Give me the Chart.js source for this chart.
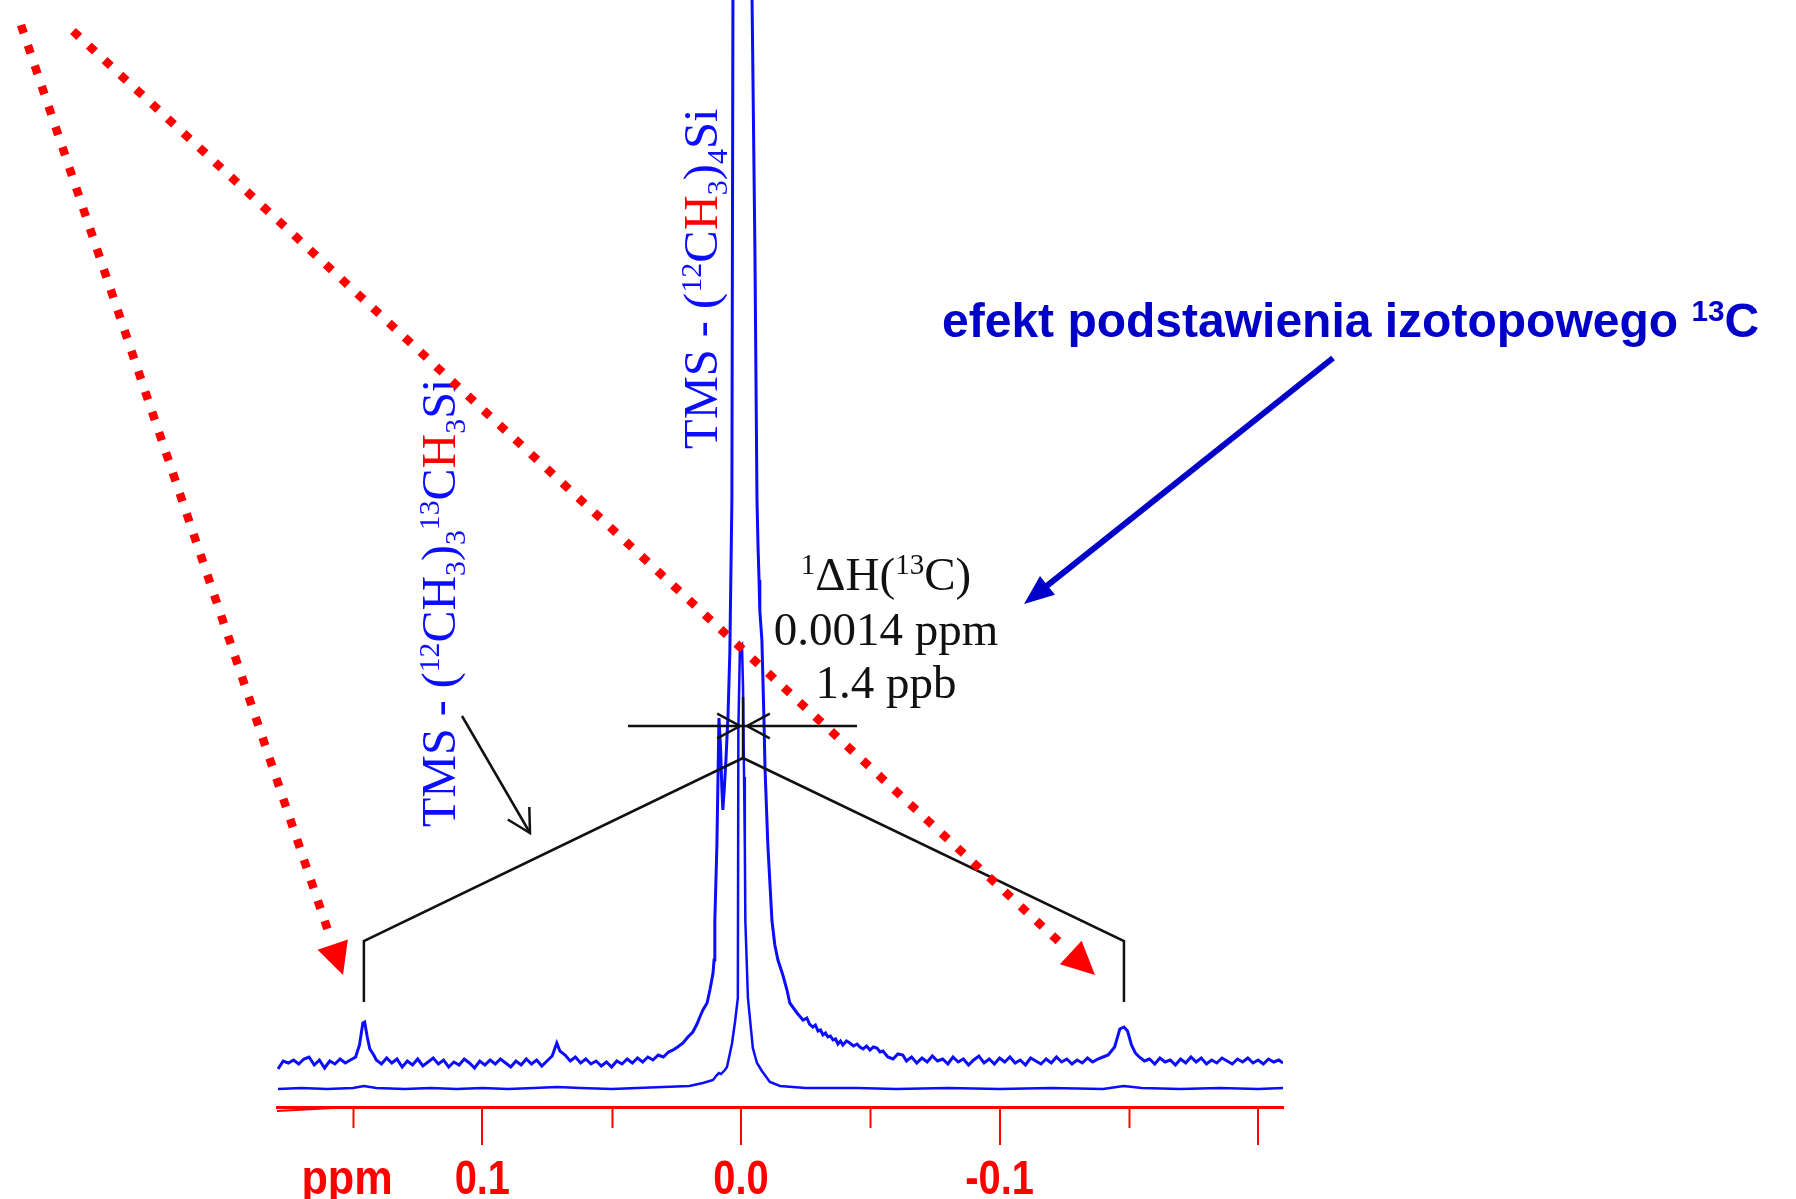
<!DOCTYPE html>
<html>
<head>
<meta charset="utf-8">
<script src="https://cdn.jsdelivr.net/npm/chart.js@4.4.0/dist/chart.umd.min.js"></script>
<style>
  html, body { margin: 0; padding: 0; background: #fff; }
  canvas { display: block; }
</style>
</head>
<body>
<canvas id="nmr" width="1796" height="1199" style="width:1796px;height:1199px"></canvas>
<script>
// chemical shift axis (ppm, high field to the right)
const ppmMax = 0.1794;
const ppmMin = -0.2096;
const tickStep = 0.05;
const tickLabels = { '0.15': 'ppm', '0.10': '0.1', '0.00': '0.0', '-0.10': '-0.1' };

// 13C satellites of TMS (ppm) and the main line
const satellites = [0.1458, -0.1481];
const mainLine = -0.0008;

// vertically expanded trace [ppm, intensity]
const upperTrace = [
  [0.179,38],[0.177,46],[0.175,44],[0.173,47],[0.171,43],[0.169,48],[0.167,50],[0.165,42],
  [0.163,47],[0.161,39],[0.159,46],[0.157,43],[0.155,48],[0.153,44],[0.151,47],[0.149,50],
  [0.1475,62],[0.1462,84],[0.1455,85],[0.1445,70],[0.1435,58],[0.142,52],[0.141,47],[0.139,43],
  [0.137,49],[0.135,44],[0.133,48],[0.131,40],[0.129,46],[0.127,42],[0.125,48],[0.123,41],
  [0.121,45],[0.119,49],[0.117,43],[0.115,47],[0.113,40],[0.111,45],[0.109,42],[0.107,48],
  [0.105,44],[0.103,39],[0.101,46],[0.099,42],[0.097,47],[0.095,43],[0.093,48],[0.091,44],
  [0.089,40],[0.087,46],[0.085,42],[0.083,48],[0.081,43],[0.079,47],[0.077,41],[0.075,46],
  [0.073,51],[0.0712,64],[0.070,56],[0.068,52],[0.066,46],[0.064,50],[0.062,44],[0.060,48],
  [0.058,43],[0.056,46],[0.054,41],[0.052,45],[0.050,40],[0.048,46],[0.046,43],[0.044,48],
  [0.042,44],[0.040,49],[0.038,45],[0.036,50],[0.034,47],[0.032,52],[0.030,50],[0.028,55],
  [0.0262,57],[0.0245,60],[0.0224,64],[0.0205,70],[0.0186,75],[0.017,83],[0.0159,90],[0.0147,97],
  [0.0131,104],[0.012,117],[0.0108,134],[0.0104,147],[0.0101,186],[0.0093,262],[0.0085,389],
  [0.0079,360],[0.0074,320],[0.007,297],[0.0064,320],[0.0058,347],[0.005,392],[0.0043,454],
  [0.0035,607],[0.0031,1107],[0.0025,1500],[-0.0004,6000],[-0.0039,1500],[-0.0043,1107],
  [-0.0054,857],[-0.0062,607],[-0.0066,561],[-0.007,527],[-0.0073,496],[-0.0081,467],
  [-0.0089,387],[-0.0093,339],[-0.0104,262],[-0.012,186],[-0.0131,162],[-0.0143,147],
  [-0.0162,132],[-0.0178,117],[-0.0189,104],[-0.0203,99],[-0.0217,94],[-0.023,90],[-0.024,87],
  [-0.0255,89],[-0.0265,83],[-0.0278,80],[-0.0288,82],[-0.0298,76],[-0.0308,77],[-0.0317,72],
  [-0.0327,74],[-0.0336,70],[-0.0346,71],[-0.0356,67],[-0.0366,68],[-0.0375,63],[-0.0385,66],
  [-0.0394,62],[-0.0408,66],[-0.0421,64],[-0.0435,61],[-0.0449,63],[-0.046,60],[-0.0472,58],
  [-0.0486,61],[-0.0499,57],[-0.0512,60],[-0.0526,59],[-0.0538,55],[-0.0549,56],[-0.0568,50],
  [-0.0588,48],[-0.0607,53],[-0.0626,52],[-0.064,46],[-0.066,50],[-0.068,44],[-0.070,49],
  [-0.072,45],[-0.074,51],[-0.076,46],[-0.078,48],[-0.080,43],[-0.082,50],[-0.084,45],[-0.086,48],
  [-0.088,42],[-0.090,47],[-0.092,51],[-0.094,44],[-0.096,48],[-0.098,43],[-0.100,49],[-0.102,45],
  [-0.104,50],[-0.106,44],[-0.108,47],[-0.110,42],[-0.112,49],[-0.114,46],[-0.116,43],[-0.118,48],
  [-0.120,44],[-0.122,50],[-0.124,45],[-0.126,48],[-0.128,43],[-0.130,47],[-0.132,44],[-0.134,49],
  [-0.136,45],[-0.138,48],[-0.140,50],[-0.142,52],[-0.1445,60],[-0.1465,78],[-0.1481,80],
  [-0.1495,76],[-0.151,62],[-0.1525,54],[-0.154,50],[-0.156,46],[-0.158,48],[-0.160,43],
  [-0.162,49],[-0.164,45],[-0.166,47],[-0.168,42],[-0.170,48],[-0.172,44],[-0.174,50],[-0.176,45],
  [-0.178,49],[-0.180,43],[-0.182,47],[-0.184,44],[-0.186,49],[-0.188,46],[-0.190,43],[-0.192,48],
  [-0.194,45],[-0.196,49],[-0.198,44],[-0.200,47],[-0.202,43],[-0.204,48],[-0.206,45],[-0.208,47],
  [-0.2096,44]
];

// normal trace [ppm, intensity]
const lowerTrace = [
  [0.179,18],[0.170,19],[0.160,18],[0.150,19],[0.1458,21],[0.141,19],[0.130,18],[0.120,19],
  [0.110,18],[0.100,19],[0.090,18],[0.080,19],[0.071,20],[0.062,19],[0.050,18],[0.040,19],
  [0.030,20],[0.020,21],[0.0147,24],[0.0108,27],[0.0093,32],[0.0085,34],[0.0077,33],[0.0062,37],
  [0.0054,40],[0.0035,63],[0.0023,85],[0.0012,109],[0.0010,377],[0.0004,459],[-0.0004,462],
  [-0.0008,420],[-0.0012,330],[-0.0015,262],[-0.0017,186],[-0.0027,109],[-0.0046,59],
  [-0.0062,44],[-0.0081,36],[-0.0112,25],[-0.0151,21],[-0.025,19],[-0.045,19],[-0.060,18],
  [-0.080,19],[-0.100,18],[-0.120,19],[-0.140,18],[-0.148,21],[-0.155,19],[-0.170,18],
  [-0.185,19],[-0.200,18],[-0.2096,19]
];

const blue = '#0c0cff';
const navy = '#0000c8';
const red = '#ff0000';
const ink = '#111111';
const serif = "'Liberation Serif', 'Times New Roman', serif";
const sans = "'Liberation Sans', Arial, sans-serif";

function isMajor(v) {
  return Math.abs(Math.round(v * 10) - v * 10) < 1e-6;
}

// text with super/subscripts, runs = [text, colour, 'sup'|'sub'|undefined]
function runWidth(ctx, runs, size, family, weight) {
  let w = 0;
  runs.forEach(([t, , k]) => {
    ctx.font = `${weight} ${k ? size * 0.62 : size}px ${family}`;
    w += ctx.measureText(t).width;
  });
  return w;
}

function drawRuns(ctx, runs, x, y, size, family, weight) {
  let cx = x;
  ctx.textBaseline = 'alphabetic';
  ctx.textAlign = 'left';
  runs.forEach(([t, c, k]) => {
    const s = k ? size * 0.62 : size;
    const dy = k === 'sup' ? -size * 0.34 : k === 'sub' ? size * 0.2 : 0;
    ctx.font = `${weight} ${s}px ${family}`;
    ctx.fillStyle = c;
    ctx.fillText(t, cx, y + dy);
    cx += ctx.measureText(t).width;
  });
}

function openHead(ctx, x0, y0, x1, y1, len, spread) {
  const a = Math.atan2(y1 - y0, x1 - x0);
  ctx.beginPath();
  ctx.moveTo(x1 - len * Math.cos(a - spread), y1 - len * Math.sin(a - spread));
  ctx.lineTo(x1, y1);
  ctx.lineTo(x1 - len * Math.cos(a + spread), y1 - len * Math.sin(a + spread));
  ctx.stroke();
}

function solidArrow(ctx, x0, y0, x1, y1, width, colour, len, half, dash) {
  const a = Math.atan2(y1 - y0, x1 - x0);
  const c = Math.cos(a), s = Math.sin(a);
  const bx = x1 - len * c, by = y1 - len * s;
  ctx.save();
  ctx.strokeStyle = colour;
  ctx.fillStyle = colour;
  ctx.lineWidth = width;
  ctx.lineCap = 'butt';
  if (dash) ctx.setLineDash(dash);
  ctx.beginPath();
  ctx.moveTo(x0, y0);
  ctx.lineTo(bx + (dash ? -4 * c : 2 * c), by + (dash ? -4 * s : 2 * s));
  ctx.stroke();
  ctx.setLineDash([]);
  ctx.beginPath();
  ctx.moveTo(x1, y1);
  ctx.lineTo(bx + half * s, by - half * c);
  ctx.lineTo(bx - half * s, by + half * c);
  ctx.closePath();
  ctx.fill();
  ctx.restore();
}

const annotate = {
  id: 'annotate',
  afterDraw(chart) {
    const { ctx, chartArea } = chart;
    const x = chart.scales.x, y = chart.scales.y;
    const base = chartArea.bottom;

    ctx.save();
    // minor ticks, narrow tick labels and the slanted start of the axis
    ctx.strokeStyle = red;
    ctx.fillStyle = red;
    ctx.lineWidth = 2;
    ctx.font = `bold 48px ${sans}`;
    ctx.textAlign = 'center';
    ctx.textBaseline = 'alphabetic';
    x.ticks.forEach(t => {
      const px = x.getPixelForValue(t.value);
      if (!isMajor(t.value)) {
        ctx.beginPath();
        ctx.moveTo(Math.round(px) + 0.5, base);
        ctx.lineTo(Math.round(px) + 0.5, base + 21);
        ctx.stroke();
      }
      const lab = tickLabels[t.value.toFixed(2)];
      if (lab) {
        ctx.save();
        ctx.translate(lab === 'ppm' ? px - 6 : px, base + 87);
        ctx.scale(lab === 'ppm' ? 0.9 : 0.83, 1);
        ctx.fillText(lab, 0, 0);
        ctx.restore();
      }
    });
    ctx.beginPath();
    ctx.moveTo(chartArea.left, base + 4);
    ctx.lineTo(x.getPixelForValue(0.15), base);
    ctx.stroke();

    // bracket joining the two 13C satellites
    const sL = x.getPixelForValue(satellites[0]);
    const sR = x.getPixelForValue(satellites[1]);
    const m = x.getPixelForValue(mainLine);
    ctx.strokeStyle = ink;
    ctx.lineWidth = 2.5;
    ctx.lineJoin = 'miter';
    ctx.beginPath();
    ctx.moveTo(sL, y.getPixelForValue(105));
    ctx.lineTo(sL, y.getPixelForValue(166));
    ctx.lineTo(m, y.getPixelForValue(349));
    ctx.lineTo(sR, y.getPixelForValue(166));
    ctx.lineTo(sR, y.getPixelForValue(105));
    ctx.stroke();
    ctx.beginPath();
    ctx.moveTo(m, y.getPixelForValue(349));
    ctx.lineTo(m, y.getPixelForValue(410));
    ctx.stroke();

    // isotope shift marker
    const hy = y.getPixelForValue(381);
    ctx.beginPath();
    ctx.moveTo(628, hy);
    ctx.lineTo(857, hy);
    ctx.stroke();
    openHead(ctx, 700, hy, m - 3, hy, 26, 0.5);
    openHead(ctx, 790, hy, m + 4, hy, 26, 0.5);

    // pointer from the rotated satellite label
    ctx.beginPath();
    ctx.moveTo(462, 716);
    ctx.lineTo(530, 833);
    ctx.stroke();
    openHead(ctx, 462, 716, 530, 833, 26, 0.5);

    // serif annotation
    const shiftRuns = [['1', ink, 'sup'], ['\u0394H(', ink], ['13', ink, 'sup'], ['C)', ink]];
    const w = runWidth(ctx, shiftRuns, 47, serif, 'normal');
    drawRuns(ctx, shiftRuns, 886 - w / 2, 590, 47, serif, 'normal');
    ctx.font = `47px ${serif}`;
    ctx.fillStyle = ink;
    ctx.textAlign = 'center';
    ctx.fillText('0.0014 ppm', 886, 645);
    ctx.fillText('1.4 ppb', 886, 698);

    // rotated peak labels
    const tmsRuns = [['TMS - (', blue], ['12', blue, 'sup'], ['C', blue], ['H', red], ['3', blue, 'sub'],
      [')', blue], ['4', blue, 'sub'], ['Si', blue]];
    ctx.save();
    ctx.translate(717, 449);
    ctx.rotate(-Math.PI / 2);
    drawRuns(ctx, tmsRuns, 0, 0, 48.5, serif, 'normal');
    ctx.restore();

    const satRuns = [['TMS - (', blue], ['12', blue, 'sup'], ['CH', blue], ['3', blue, 'sub'], [')', blue],
      ['3', blue, 'sub'], ['13', blue, 'sup'], ['C', blue], ['H', red], ['3', blue, 'sub'], ['Si', blue]];
    ctx.save();
    ctx.translate(455, 827);
    ctx.rotate(-Math.PI / 2);
    drawRuns(ctx, satRuns, 0, 0, 48, serif, 'normal');
    ctx.restore();

    // heading and its arrow
    drawRuns(ctx, [['efekt podstawienia izotopowego ', navy], ['13', navy, 'sup'], ['C', navy]],
      942, 337, 48, sans, 'bold');
    solidArrow(ctx, 1333, 358, 1024, 604, 6, navy, 30, 12);

    // red dotted arrows
    solidArrow(ctx, 21, 25, 343, 975, 8.5, red, 32, 16, [8.5, 13]);
    solidArrow(ctx, 73, 31, 1095, 975, 8.5, red, 33, 16, [8.5, 13]);
    ctx.restore();
  }
};

new Chart(document.getElementById('nmr'), {
  type: 'scatter',
  data: {
    datasets: [
      {
        label: 'expanded',
        data: upperTrace.map(([p, v]) => ({ x: p, y: v })),
        showLine: true,
        borderColor: blue,
        borderWidth: 3,
        pointRadius: 0,
        tension: 0
      },
      {
        label: 'normal',
        data: lowerTrace.map(([p, v]) => ({ x: p, y: v })),
        showLine: true,
        borderColor: blue,
        borderWidth: 2.5,
        pointRadius: 0,
        tension: 0
      }
    ]
  },
  options: {
    responsive: false,
    devicePixelRatio: 1,
    animation: false,
    events: [],
    layout: { padding: { left: 277, right: 513, top: 0, bottom: 0 } },
    plugins: { legend: { display: false }, tooltip: { enabled: false } },
    scales: {
      x: {
        type: 'linear',
        reverse: true,
        min: ppmMin,
        max: ppmMax,
        afterFit(scale) { scale.height = 92; },
        border: { display: true, color: red, width: 3 },
        grid: {
          drawOnChartArea: false,
          drawTicks: true,
          tickLength: 38,
          lineWidth: 2,
          color: ctx => (ctx.tick && isMajor(ctx.tick.value)) ? red : 'rgba(0,0,0,0)'
        },
        ticks: {
          display: false,
          stepSize: tickStep,
          includeBounds: false,
          autoSkip: false
        }
      },
      y: { display: false, min: 0, max: 1107 }
    }
  },
  plugins: [annotate]
});
</script>
</body>
</html>
